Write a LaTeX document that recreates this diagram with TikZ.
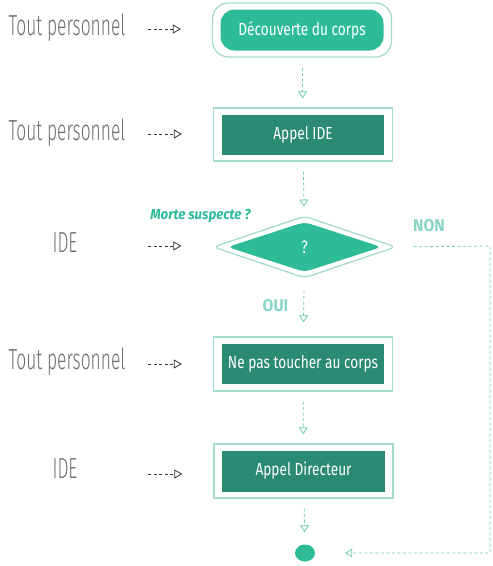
\documentclass[tikz,border=0pt]{standalone}
\usepackage{fontspec}
\setmainfont{Fira Sans}
\newfontfamily\boxfont[FakeStretch=0.78]{Fira Sans}
\newfontfamily\sidefont[FakeStretch=0.6]{Fira Sans Light}
\newfontfamily\notefont[FakeStretch=0.92]{Fira Sans}
\usetikzlibrary{shapes.geometric,arrows.meta}

\definecolor{tealfill}{HTML}{2EBB98}
\definecolor{tealdark}{HTML}{2A8A72}
\definecolor{tealline}{HTML}{A6DCCE}
\definecolor{flowcol}{HTML}{6CCBB5}
\definecolor{sidegray}{HTML}{6E6E6E}

\tikzset{
  outer/.style={draw=tealline, line width=1.3pt, minimum width=179pt, minimum height=53pt, inner sep=0pt},
  inner/.style={fill=tealdark, text=white, minimum width=162pt, minimum height=40pt, inner sep=0pt,
    font=\boxfont\fontsize{17.5}{17.5}\selectfont},
  flow/.style={draw=flowcol, line width=0.8pt, dash pattern=on 3pt off 2.5pt,
    -{Triangle[open,width=9pt,length=7pt]}, shorten <=10pt, shorten >=9pt},
  who/.style={text=sidegray, anchor=base, font=\sidefont\fontsize{29}{29}\selectfont},
  point/.style={draw=black!80, line width=0.8pt, dash pattern=on 3pt off 2.5pt,
    -{Triangle[open,width=9pt,length=8pt]}, shorten >=31pt},
  answer/.style={text=flowcol!80, font=\notefont\bfseries\fontsize{17}{17}\selectfont}
}

\begin{document}
\begin{tikzpicture}[x=1pt,y=-1pt]
\useasboundingbox (0,0) rectangle (493,566);

% main column
\node[outer, rounded corners=16pt, minimum height=54pt] (decouverte) at (302,30) {};
\node[inner, fill=tealfill, rounded corners=14pt, minimum width=163pt, minimum height=41pt] (decouverteIn) at (decouverte) {Découverte du corps};

\node[outer] (appelIDE) at (303,134.5) {};
\node[inner] (appelIDEIn) at (appelIDE) {Appel IDE};

\node[outer, shape=diamond, rounded corners=6pt, minimum width=183pt, minimum height=62pt] (question) at (304.5,247) {};
\node[shape=diamond, fill=tealfill, rounded corners=6pt, minimum width=154pt, minimum height=50pt, inner sep=0pt,
  text=white, font=\boxfont\fontsize{18}{18}\selectfont] (questionIn) at (question) {?};

\node[outer, minimum height=54pt] (toucher) at (303,364) {};
\node[inner] (toucherIn) at (toucher) {Ne pas toucher au corps};

\node[outer, minimum height=54pt] (directeur) at (303.5,471) {};
\node[inner, minimum width=163pt, minimum height=41pt] (directeurIn) at (directeur) {Appel Directeur};

\node[ellipse, fill=tealfill, minimum width=20pt, minimum height=17pt, inner sep=0pt] (fin) at (305,553) {};

% flow between steps
\draw[flow] (decouverte) -- (appelIDE);
\draw[flow] (appelIDE) -- (question);
\draw[flow, shorten <=12pt, shorten >=14pt] (question) -- (toucher);
\draw[flow] (toucher) -- (directeur);
\draw[flow, shorten >=12pt] (directeur) -- (fin);

% labels of the question
\node[text=tealfill, font=\notefont\bfseries\itshape\fontsize{14.5}{14.5}\selectfont] (morte) at (200.5,216) {Morte suspecte ?};
\node[answer] (non) at (429,226) {NON};
\node[answer] (oui) at (275.5,306) {OUI};

% NON goes straight to the end
\coordinate (detour) at (490,246);
\draw[flow, shorten <=17pt, shorten >=30pt] (question.east) -- (detour) |- (fin.east);

% who does what
\node[who] (tout1) at (67,35) {Tout personnel};
\node[who] (tout2) at (67,140) {Tout personnel};
\node[who] (ide1) at (65,252) {IDE};
\node[who] (tout3) at (67,369) {Tout personnel};
\node[who] (ide2) at (65,478) {IDE};

\coordinate (p1) at (148,29);
\coordinate (p2) at (148,134);
\coordinate (p3) at (148,246);
\coordinate (p4) at (148,364);
\coordinate (p5) at (148,474);
\draw[point] (p1) -- (p1 -| decouverte.west);
\draw[point] (p2) -- (p2 -| appelIDE.west);
\draw[point] (p3) -- (p3 -| question.west);
\draw[point] (p4) -- (p4 -| toucher.west);
\draw[point] (p5) -- (p5 -| directeur.west);
\end{tikzpicture}
\end{document}
